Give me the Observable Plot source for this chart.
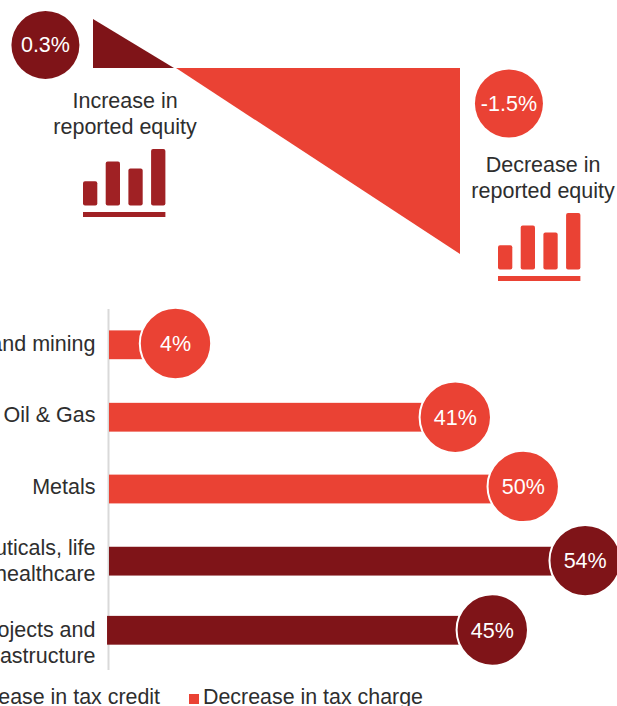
<!DOCTYPE html>
<html>
<head>
<meta charset="utf-8">
<script src="https://cdn.jsdelivr.net/npm/d3@7"></script>
<script src="https://cdn.jsdelivr.net/npm/@observablehq/plot@0.6"></script>
<style>
  html, body { margin: 0; padding: 0; background: #fff; }
  #page { position: relative; width: 617px; height: 706px; overflow: hidden; font-family: "Liberation Sans", Arial, sans-serif; color: #2e2e2e; }
  #page svg { position: absolute; max-width: none; }
  .legend { position: absolute; top: 684px; font-size: 21.4px; line-height: 26px; white-space: nowrap; }
  .swatch { display: inline-block; width: 10px; height: 10px; margin-right: 4px; }
</style>
</head>
<body>
<div id="page"></div>
<script>
// Series names and colours
const kinds = ["Increase in tax credit", "Decrease in tax charge"];
const kindColors = ["#7f1418", "#ea4234"];
const iconColors = ["#a02124", "#ea4234"];

// Top panel: effect on reported equity
const equityLabels = ["0.3%", "-1.5%"];
const equityNotes = ["Increase in\nreported equity", "Decrease in\nreported equity"];
const equityKinds = [kinds[0], kinds[1]];
const equityX = [0.2207, 0.2262, 1];
const equityDrawn = [0.395, -1.5];
const equityBadgeX = [-0.131, 1.132];
const equityBadgeY = [0.19, -0.282];
const equityNoteX = [0.086, 1.225];
const equityNoteY = [-0.354, -0.875];
const iconHeights = [24.3, 44, 37, 56.6];

// Bottom panel: sectors
const sectors = ["Coal and mining", "Oil & Gas", "Metals", "Pharmaceuticals, life\nsciences and healthcare", "Capital projects and\ninfrastructure"];
const sectorLabels = ["4%", "41%", "50%", "54%", "45%"];
const sectorKinds = [kinds[1], kinds[1], kinds[1], kinds[0], kinds[0]];
const barDrawn = [8.74, 45.8, 54.8, 63, 50.7];
const barStart = [0, 0, 0, 0, -0.26];
const barRow = [0, 1.006, 2.003, 3.005, 3.965];
const badgeRow = [-0.025, 1, 1.96, 2.99, 3.955];
const textRow = [-0.038, 0.952, 1.952, 2.984, 4.113];

const colorScale = {domain: kinds, range: kindColors};
const page = document.getElementById("page");

// Top panel
const equityBadges = equityLabels.map((label, i) => ({label, kind: equityKinds[i], x: equityBadgeX[i], y: equityBadgeY[i]}));
const equityTexts = equityNotes.map((note, i) => ({note, x: equityNoteX[i], y: equityNoteY[i]}));
const darkTriangle = [{x: 0, y: equityDrawn[0]}, {x: equityX[0], y: 0}];
const redTriangle = [{x: equityX[1], y: 0}, {x: equityX[2], y: equityDrawn[1]}];

const topPlot = Plot.plot({
  width: 617, height: 290, margin: 0,
  x: {domain: [0, 1], range: [93, 460], axis: null},
  y: {domain: [0, -1.5], range: [68, 254], axis: null},
  color: colorScale,
  style: {fontFamily: "'Liberation Sans', Arial, sans-serif", background: "transparent"},
  marks: [
    Plot.areaY(darkTriangle, {x: "x", y1: 0, y2: "y", fill: kindColors[0], curve: "linear"}),
    Plot.areaY(redTriangle, {x: "x", y1: 0, y2: "y", fill: kindColors[1], curve: "linear"}),
    Plot.dot(equityBadges, {x: "x", y: "y", r: 34, fill: "kind"}),
    Plot.text(equityBadges, {x: "x", y: "y", text: "label", fill: "#fff", fontSize: 21.5, dy: 0.5}),
    Plot.text(equityTexts, {x: "x", y: "y", text: "note", fill: "#2e2e2e", fontSize: 21.5, lineHeight: 1.21, lineAnchor: "middle"})
  ]
});
topPlot.style.left = "0px"; topPlot.style.top = "0px";
page.appendChild(topPlot);

// Pictograms
[[83.3, 148.7], [498.3, 212.7]].forEach(([left, topPos], i) => {
  const icon = Plot.plot({
    width: 82.4, height: 68, margin: 0,
    x: {type: "band", domain: [0, 1, 2, 3], range: [0, 82.4], paddingInner: 0.37, paddingOuter: 0, round: false, axis: null},
    y: {domain: [0, 56.6], range: [56.6, 0], axis: null},
    style: {background: "transparent"},
    marks: [
      Plot.barY(iconHeights, {x: (d, j) => j, y: d => d, fill: iconColors[i], rx: 2}),
      Plot.ruleY([0], {stroke: iconColors[i], strokeWidth: 5, dy: 8.3})
    ]
  });
  icon.style.left = left + "px"; icon.style.top = topPos + "px";
  page.appendChild(icon);
});

// Bottom panel
const rows = sectors.map((sector, i) => ({
  sector, label: sectorLabels[i], kind: sectorKinds[i], len: barDrawn[i],
  start: barStart[i], bar: barRow[i], badge: badgeRow[i], text: textRow[i]
}));

const bottomPlot = Plot.plot({
  width: 617, height: 390, margin: 0,
  x: {domain: [0, 70], range: [109, 637.5], axis: null},
  y: {domain: [0, 4], range: [54.8, 342.8], axis: null},
  color: colorScale,
  style: {fontFamily: "'Liberation Sans', Arial, sans-serif", background: "transparent"},
  marks: [
    Plot.ruleX([0], {y1: -0.497, y2: 4.517, stroke: "#d9d9d9", strokeWidth: 2, dx: -1}),
    Plot.rectX(rows, {x1: "start", x2: "len", y1: d => d.bar - 0.2, y2: d => d.bar + 0.2, fill: "kind"}),
    Plot.dot(rows, {x: "len", y: "badge", r: 35.7, fill: "kind", stroke: "#fff", strokeWidth: 2}),
    Plot.text(rows, {x: "len", y: "badge", text: "label", fill: "#fff", fontSize: 21.5, dy: 1}),
    Plot.text(rows, {x: 0, y: "text", text: "sector", dx: -14, textAnchor: "end", fill: "#2e2e2e", fontSize: 21.5, lineHeight: 1.21, lineAnchor: "middle"})
  ]
});
bottomPlot.style.left = "0px"; bottomPlot.style.top = "290px";
page.appendChild(bottomPlot);

// Legend
const legendA = document.createElement("div");
legendA.className = "legend";
legendA.style.right = "457px";
legendA.innerHTML = `<span class="swatch" style="background:${kindColors[0]}"></span>${kinds[0]}`;
page.appendChild(legendA);
const legendB = document.createElement("div");
legendB.className = "legend";
legendB.style.left = "189px";
legendB.innerHTML = `<span class="swatch" style="background:${kindColors[1]}"></span>${kinds[1]}`;
page.appendChild(legendB);
</script>
</body>
</html>
